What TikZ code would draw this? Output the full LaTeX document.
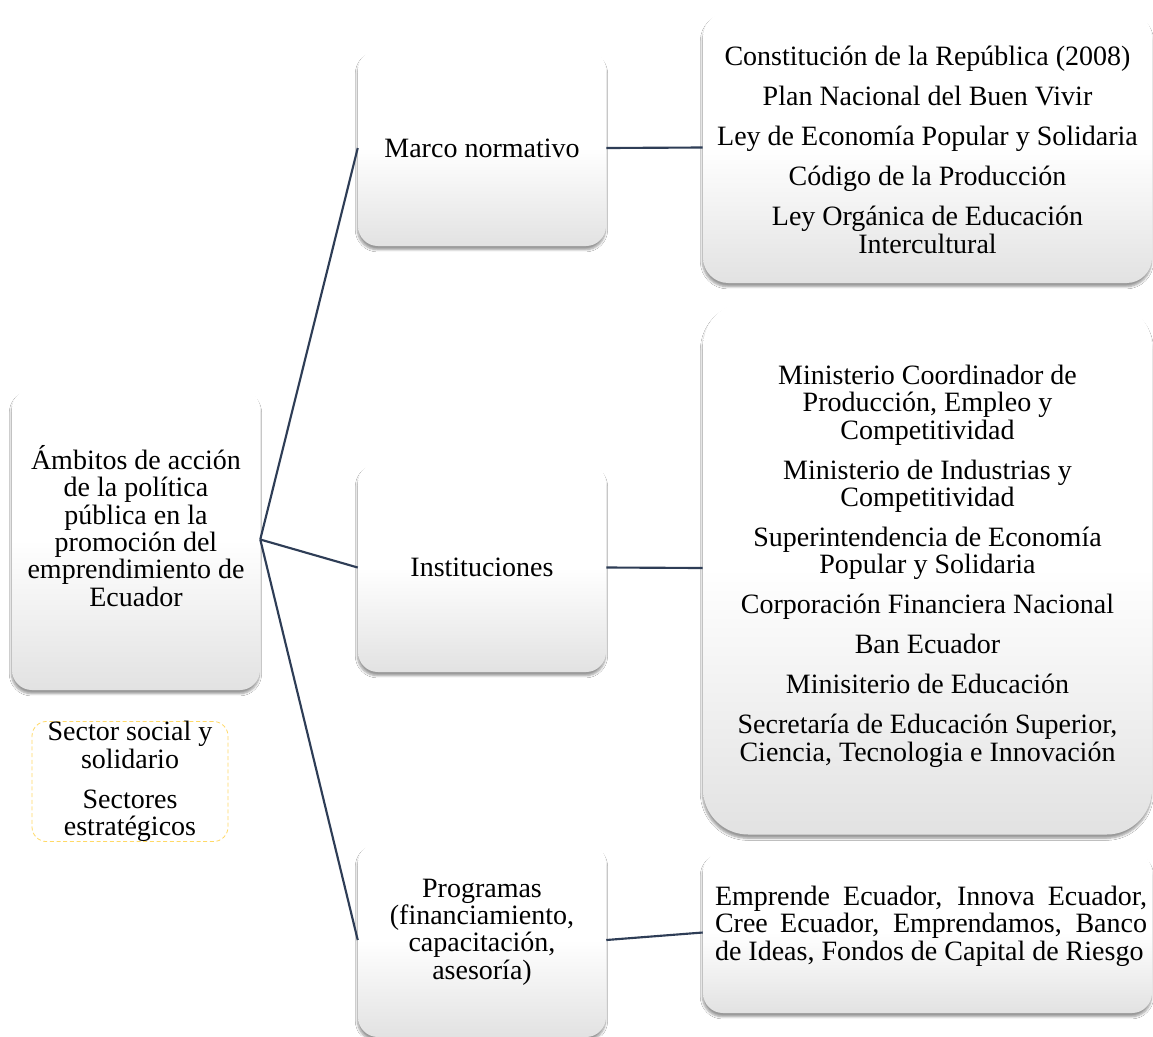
\documentclass[tikz,border=0pt]{standalone}
\usepackage{fontspec}
\setmainfont{Liberation Serif}
\usetikzlibrary{shadows.blur}
\definecolor{linenavy}{HTML}{2E3D56}
\definecolor{yelline}{HTML}{FFD966}
\definecolor{boxbottom}{HTML}{E2E2E2}
\tikzset{
  gbox/.style={shape=rectangle, inner sep=0pt, align=center,
    top color=white, bottom color=boxbottom, middle color=white, shading=axis,
    blur shadow={shadow xshift=-0.4pt, shadow yshift=-2.8pt, shadow blur steps=6, shadow opacity=40, shadow blur radius=1.6pt},
    font=\fontsize{21}{20.5}\selectfont},
  txt/.style={font=\fontsize{21}{20.5}\selectfont, align=center},
  conn/.style={draw=linenavy, line width=1.6pt},
  ybox/.style={shape=rectangle, draw=yelline, densely dashed, line width=0.6pt, rounded corners=11pt, fill=white,
    inner sep=0pt, align=center, font=\fontsize{21}{20.5}\selectfont, minimum width=147pt, minimum height=84.75pt}
}
\begin{document}
\begin{tikzpicture}[x=0.75pt,y=-0.75pt]
\path[use as bounding box, fill=white] (0,0) rectangle (1153,1036);

\node[gbox, rounded corners=15pt, minimum width=186pt, minimum height=225.75pt] (root) at (136,539.5) {};
\node[txt] (roottxt) at (136,526) {Ámbitos de acción\\de la política\\pública en la\\promoción del\\emprendimiento de\\Ecuador};

\node[gbox, rounded corners=15pt, minimum width=186pt, minimum height=147pt] (marco) at (482,148) {Marco normativo};
\node[gbox, rounded corners=15pt, minimum width=186pt, minimum height=156.75pt] (inst) at (482,567.5) {Instituciones};
\node[gbox, rounded corners=15pt, minimum width=186pt, minimum height=145.5pt] (prog) at (482,940) {};
\node[txt] (progtxt) at (482,932) {Programas\\(financiamiento,\\capacitación,\\asesoría)};

\node[gbox, rounded corners=19pt, minimum width=336.75pt, minimum height=203.25pt] (rt) at (927.5,147.5) {};
\node[txt] (rttxt) at (927.5,150) {Constitución de la República (2008)\\[9.5pt]Plan Nacional del Buen Vivir\\[9.5pt]Ley de Economía Popular y Solidaria\\[9.5pt]Código de la Producción\\[9.5pt]Ley Orgánica de Educación\\Intercultural};

\node[gbox, rounded corners=34pt, minimum width=336.75pt, minimum height=399.75pt] (rm) at (927.5,568) {};
\node[txt] (rmtxt) at (927.5,566) {Ministerio Coordinador de\\Producción, Empleo y\\Competitividad\\[9.5pt]Ministerio de Industrias y\\Competitividad\\[9.5pt]Superintendencia de Economía\\Popular y Solidaria\\[9.5pt]Corporación Financiera Nacional\\[9.5pt]Ban Ecuador\\[9.5pt]Minisiterio de Educación\\[9.5pt]Secretaría de Educación Superior,\\Ciencia, Tecnologia e Innovación};

\node[gbox, rounded corners=15pt, minimum width=336.75pt, minimum height=120.75pt] (rb) at (927.5,932.5) {};
\node[font=\fontsize{21}{20.5}\selectfont, text width=324pt, align=justify, inner sep=0pt] (rbtxt) at (931,926) {Emprende Ecuador, Innova Ecuador,\linebreak Cree Ecuador, Emprendamos, Banco\linebreak de Ideas, Fondos de Capital de Riesgo};

\node[ybox] (yel) at (130,781.5) {Sector social y\\solidario\\[9.5pt]Sectores\\estratégicos};

\draw[conn] (root.east) -- (marco.west);
\draw[conn] (root.east) -- (inst.west);
\draw[conn] (root.east) -- (prog.west);
\draw[conn] (marco.east) -- (rt.west);
\draw[conn] (inst.east) -- (rm.west);
\draw[conn] (prog.east) -- (rb.west);
\end{tikzpicture}
\end{document}
